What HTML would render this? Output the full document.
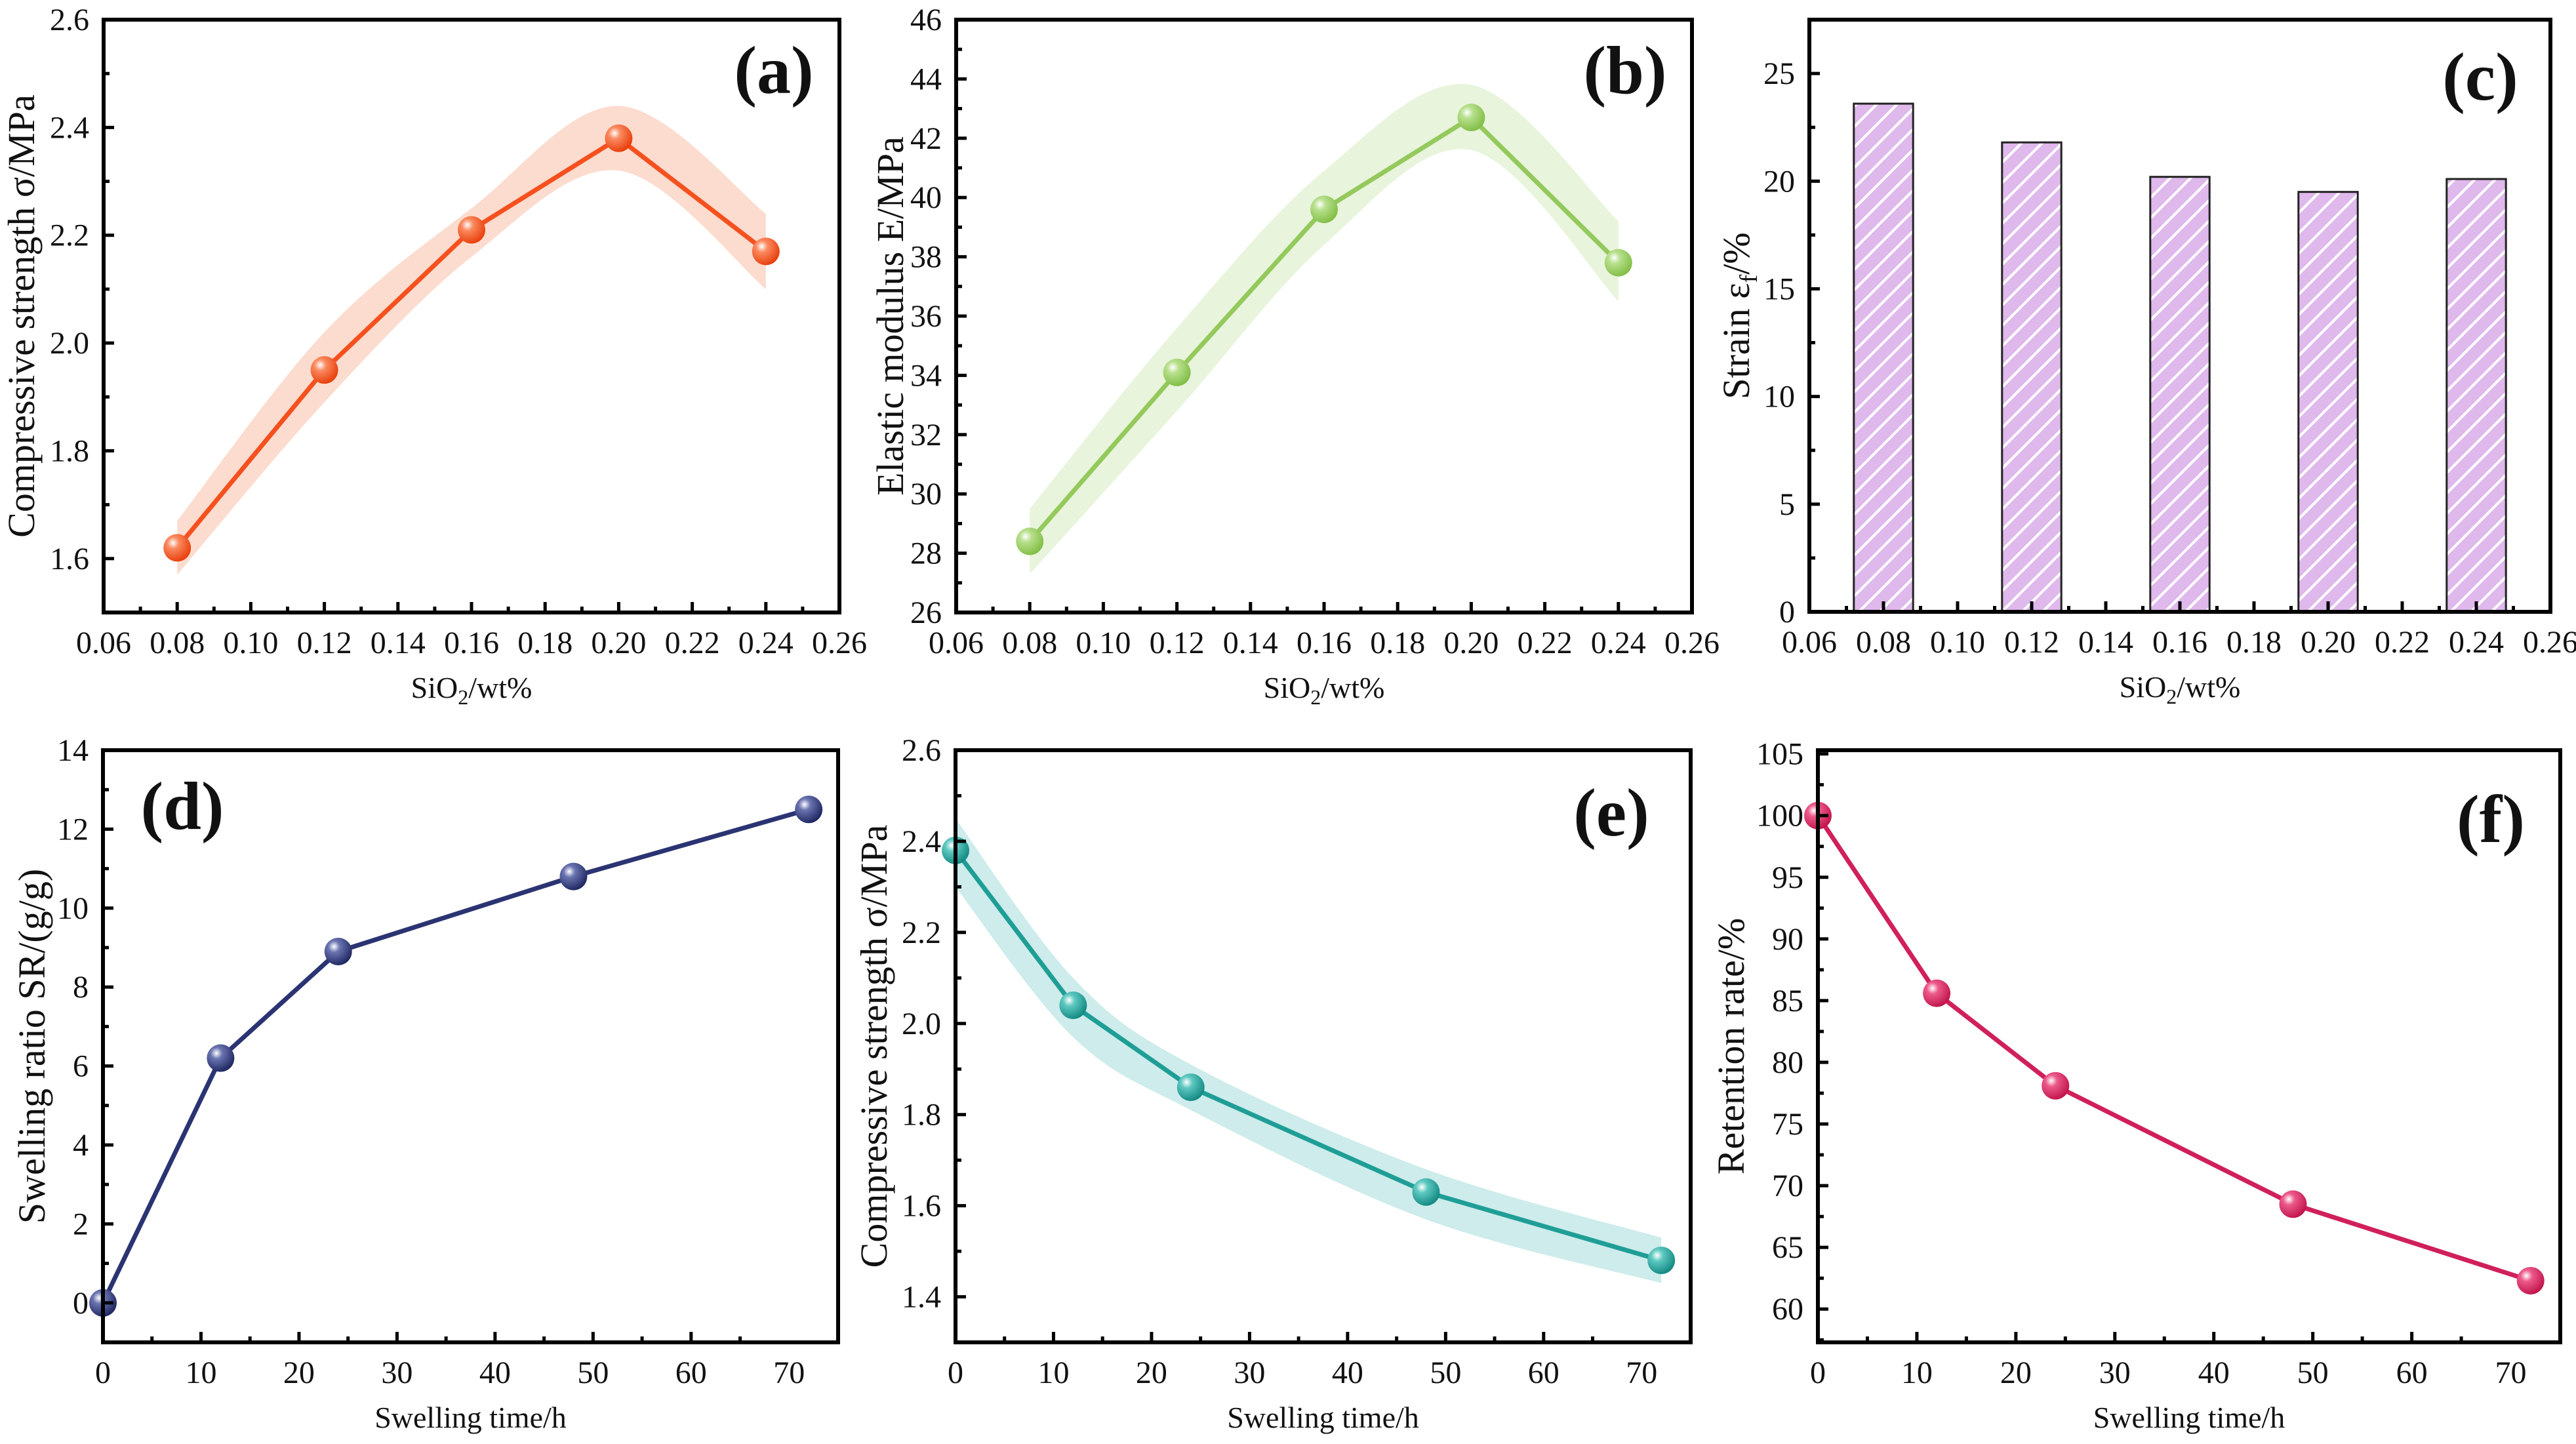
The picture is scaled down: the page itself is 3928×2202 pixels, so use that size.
<!DOCTYPE html>
<html><head><meta charset="utf-8"><style>
html,body{margin:0;padding:0;background:#fff;}
svg{display:block;}
text{font-family:"Liberation Serif",serif;fill:#111;}
</style></head><body>
<svg id="fig" width="3928" height="2202" viewBox="0 0 3928 2202" xmlns="http://www.w3.org/2000/svg">
<defs>
<radialGradient id="gOrange" cx="0.35" cy="0.32" r="0.7"><stop offset="0" stop-color="#fff"/><stop offset="0.3" stop-color="#fb8a60"/><stop offset="1" stop-color="#e8400c"/></radialGradient>
<radialGradient id="gGreen" cx="0.35" cy="0.32" r="0.7"><stop offset="0" stop-color="#fff"/><stop offset="0.3" stop-color="#b8e08e"/><stop offset="1" stop-color="#82be46"/></radialGradient>
<radialGradient id="gNavy" cx="0.35" cy="0.32" r="0.7"><stop offset="0" stop-color="#fff"/><stop offset="0.3" stop-color="#6a74b0"/><stop offset="1" stop-color="#1f2862"/></radialGradient>
<radialGradient id="gTeal" cx="0.35" cy="0.32" r="0.7"><stop offset="0" stop-color="#fff"/><stop offset="0.3" stop-color="#5ec9c1"/><stop offset="1" stop-color="#138a83"/></radialGradient>
<radialGradient id="gPink" cx="0.35" cy="0.32" r="0.7"><stop offset="0" stop-color="#fff"/><stop offset="0.3" stop-color="#ec5a8a"/><stop offset="1" stop-color="#c2154c"/></radialGradient>
<pattern id="hatch" patternUnits="userSpaceOnUse" width="22" height="22" patternTransform="rotate(45)">
<rect width="22" height="22" fill="#dfb8ec"/><rect x="0" y="0" width="4" height="22" fill="#ffffff"/>
</pattern>
</defs>
</svg>
<script>
// ---- data ----
const xSiO2 = [0.08, 0.12, 0.16, 0.20, 0.24];
const strengthA = [1.62, 1.95, 2.21, 2.38, 2.17];
const strengthAUpper = [1.67, 2.02, 2.25, 2.44, 2.24];
const strengthALower = [1.57, 1.89, 2.16, 2.32, 2.10];
const modulusB = [28.4, 34.1, 39.6, 42.7, 37.8];
const modulusBUpper = [29.5, 35.6, 40.9, 43.8, 39.2];
const modulusBLower = [27.3, 32.8, 38.4, 41.6, 36.5];
const strainC = [23.6, 21.8, 20.2, 19.5, 20.1];
const timeH = [0, 12, 24, 48, 72];
const swellingD = [0, 6.2, 8.9, 10.8, 12.5];
const strengthE = [2.38, 2.04, 1.86, 1.63, 1.48];
const strengthEUpper = [2.45, 2.10, 1.91, 1.68, 1.53];
const strengthELower = [2.30, 1.97, 1.81, 1.57, 1.43];
const retentionF = [100, 85.6, 78.1, 68.5, 62.3];
const ticksSiO2 = [0.06, 0.08, 0.10, 0.12, 0.14, 0.16, 0.18, 0.20, 0.22, 0.24, 0.26];
const ticksTime = [0, 10, 20, 30, 40, 50, 60, 70];
const ticksA = [1.6, 1.8, 2.0, 2.2, 2.4, 2.6];
const ticksB = [26, 28, 30, 32, 34, 36, 38, 40, 42, 44, 46];
const ticksC = [0, 5, 10, 15, 20, 25];
const ticksD = [0, 2, 4, 6, 8, 10, 12, 14];
const ticksE = [1.4, 1.6, 1.8, 2.0, 2.2, 2.4, 2.6];
const ticksF = [60, 65, 70, 75, 80, 85, 90, 95, 100, 105];

const NS = "http://www.w3.org/2000/svg";
const svg = document.getElementById('fig');
function el(tag, attrs, parent) {
  const e = document.createElementNS(NS, tag);
  for (const k in attrs) e.setAttribute(k, attrs[k]);
  (parent || svg).appendChild(e);
  return e;
}
function smoothPath(pts) {
  let d = 'M' + pts[0][0] + ',' + pts[0][1];
  for (let i = 0; i < pts.length - 1; i++) {
    const p0 = pts[i - 1] || pts[i], p1 = pts[i], p2 = pts[i + 1], p3 = pts[i + 2] || p2;
    const c1 = [p1[0] + (p2[0] - p0[0]) / 6, p1[1] + (p2[1] - p0[1]) / 6];
    const c2 = [p2[0] - (p3[0] - p1[0]) / 6, p2[1] - (p3[1] - p1[1]) / 6];
    d += ' C' + c1 + ' ' + c2 + ' ' + p2;
  }
  return d;
}
function revSmooth(pts) { return smoothPath(pts.slice().reverse()).replace(/^M/, 'L'); }

function panel(cfg) {
  const g = el('g', {});
  
  
  const L = cfg.box[0], T = cfg.box[1], R = cfg.box[2], B = cfg.box[3];
  const sx = v => L + (v - cfg.xr[0]) / (cfg.xr[1] - cfg.xr[0]) * (R - L);
  const sy = v => B - (v - cfg.yr[0]) / (cfg.yr[1] - cfg.yr[0]) * (B - T);
  if (cfg.upper) {
    const up = cfg.xs.map((x, i) => [sx(x), sy(cfg.upper[i])]);
    const lo = cfg.xs.map((x, i) => [sx(x), sy(cfg.lower[i])]);
    const band = el('path', { d: smoothPath(up) + ' ' + revSmooth(lo) + ' Z', fill: cfg.band }, g);
    
    
  }
  if (cfg.bars) {
    cfg.xs.forEach((x, i) => {
      const bw = sx(x + cfg.barW / 2) - sx(x - cfg.barW / 2);
      const r = el('rect', { x: sx(x) - bw / 2, y: sy(cfg.bars[i]), width: bw, height: sy(0) - sy(cfg.bars[i]), fill: 'url(#hatch)', stroke: '#222', 'stroke-width': 3 }, g);
      
      
    });
  }
  if (cfg.ys) {
    const ln = el('polyline', { points: cfg.xs.map((x, i) => sx(x) + ',' + sy(cfg.ys[i])).join(' '), fill: 'none', stroke: cfg.color, 'stroke-width': 7, 'stroke-linejoin': 'round' }, g);
    
    
    cfg.xs.forEach((x, i) => {
      const c = el('circle', { cx: sx(x), cy: sy(cfg.ys[i]), r: 21, fill: cfg.grad }, g);
      
      
    });
  }
  const box = el('rect', { x: L, y: T, width: R - L, height: B - T, fill: 'none', stroke: '#000', 'stroke-width': 6 }, g);
  
  
  const xt = cfg.xticks, xstep = xt[1] - xt[0];
  for (let i = 0; i < xt.length; i++) {
    const X = sx(xt[i]);
    if (i > 0 && i < xt.length - 1) el('line', { x1: X, y1: B, x2: X, y2: B - 16, stroke: '#000', 'stroke-width': 5 }, g);
    const m = xt[i] + xstep / 2;
    if (m < cfg.xr[1]) el('line', { x1: sx(m), y1: B, x2: sx(m), y2: B - 9, stroke: '#000', 'stroke-width': 5 }, g);
    const t = el('text', { x: X, y: B + 62, 'font-size': 48, 'text-anchor': 'middle' }, g);
    t.textContent = cfg.xfmt(xt[i]);
    
    
  }
  const yt = cfg.yticks, ystep = yt[1] - yt[0];
  for (let i = 0; i < yt.length; i++) {
    const Y = sy(yt[i]);
    if (Y > T + 2 && Y < B - 2) el('line', { x1: L, y1: Y, x2: L + 16, y2: Y, stroke: '#000', 'stroke-width': 5 }, g);
    [yt[i] - ystep / 2, yt[i] + ystep / 2].forEach(m => {
      if (m > cfg.yr[0] && m < cfg.yr[1] && (i === 0 || m > yt[i])) el('line', { x1: L, y1: sy(m), x2: L + 9, y2: sy(m), stroke: '#000', 'stroke-width': 5 }, g);
    });
    const t = el('text', { x: L - 22, y: Y + 16, 'font-size': 48, 'text-anchor': 'end' }, g);
    t.textContent = cfg.yfmt(yt[i]);
    
    
  }
  const xt2 = el('text', { x: (L + R) / 2, y: B + 130, 'font-size': 46, 'text-anchor': 'middle' }, g);
  xt2.innerHTML = cfg.xtitle;
  
  
  const ytt = el('text', { x: 0, y: 0, 'font-size': 58, 'text-anchor': 'middle', transform: 'translate(' + cfg.ytx + ',' + ((T + B) / 2) + ') rotate(-90)' }, g);
  ytt.innerHTML = cfg.ytitle;
  
  
  const pl = el('text', { x: cfg.lab[0], y: cfg.lab[1], 'font-size': 104, 'font-weight': 'bold', 'text-anchor': 'middle' }, g);
  pl.textContent = cfg.letter;
  
  
}
const f2 = v => v.toFixed(2), f1 = v => v.toFixed(1), f0 = v => String(v);
const siTitle = 'SiO<tspan dy="10" font-size="32">2</tspan><tspan dy="-10">/wt%</tspan>';
const timeTitle = 'Swelling time/h';

panel({ name: 'panel-a', box: [158, 30, 1280, 934], xr: [0.06, 0.26], yr: [1.5, 2.6], xs: xSiO2, ys: strengthA, upper: strengthAUpper, lower: strengthALower,
  color: '#f5501e', band: '#fcdccf', grad: 'url(#gOrange)', xticks: ticksSiO2, yticks: ticksA, xfmt: f2, yfmt: f1,
  xtitle: siTitle, ytitle: 'Compressive strength σ/MPa', ytx: 52, letter: '(a)', lab: [1180, 142] });
panel({ name: 'panel-b', box: [1458, 30, 2580, 934], xr: [0.06, 0.26], yr: [26, 46], xs: xSiO2, ys: modulusB, upper: modulusBUpper, lower: modulusBLower,
  color: '#94c95c', band: '#e8f4dc', grad: 'url(#gGreen)', xticks: ticksSiO2, yticks: ticksB, xfmt: f2, yfmt: f0,
  xtitle: siTitle, ytitle: 'Elastic modulus E/MPa', ytx: 1377, letter: '(b)', lab: [2478, 142] });
panel({ name: 'panel-c', box: [2759, 30, 3889, 933], xr: [0.06, 0.26], yr: [0, 27.5], xs: xSiO2, bars: strainC, barW: 0.016,
  xticks: ticksSiO2, yticks: ticksC, xfmt: f2, yfmt: f0,
  xtitle: siTitle, ytitle: 'Strain ε<tspan dy="12" font-size="38">f</tspan><tspan dy="-12">/%</tspan>', ytx: 2667, letter: '(c)', lab: [3782, 152] });
panel({ name: 'panel-d', box: [157, 1144, 1278, 2047], xr: [0, 75], yr: [-1, 14], xs: timeH, ys: swellingD,
  color: '#2b3472', grad: 'url(#gNavy)', xticks: ticksTime, yticks: ticksD, xfmt: f0, yfmt: f0,
  xtitle: timeTitle, ytitle: 'Swelling ratio SR/(g/g)', ytx: 68, letter: '(d)', lab: [278, 1264] });
panel({ name: 'panel-e', box: [1457, 1144, 2578, 2047], xr: [0, 75], yr: [1.3, 2.6], xs: timeH, ys: strengthE, upper: strengthEUpper, lower: strengthELower,
  color: '#1f9e96', band: '#cdeceb', grad: 'url(#gTeal)', xticks: ticksTime, yticks: ticksE, xfmt: f0, yfmt: f1,
  xtitle: timeTitle, ytitle: 'Compressive strength σ/MPa', ytx: 1352, letter: '(e)', lab: [2457, 1274] });
panel({ name: 'panel-f', box: [2772, 1144, 3904, 2047], xr: [0, 75], yr: [57.3, 105.3], xs: timeH, ys: retentionF,
  color: '#d0205a', grad: 'url(#gPink)', xticks: ticksTime, yticks: ticksF, xfmt: f0, yfmt: f0,
  xtitle: timeTitle, ytitle: 'Retention rate/%', ytx: 2659, letter: '(f)', lab: [3798, 1284] });
</script>
</body></html>
